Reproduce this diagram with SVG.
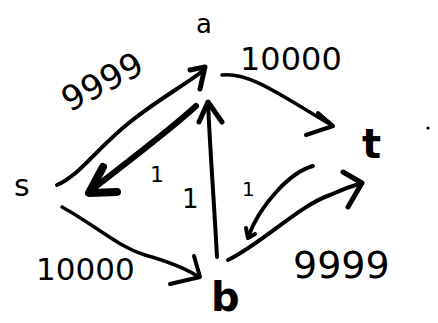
<svg xmlns="http://www.w3.org/2000/svg" width="438" height="323" viewBox="0 0 438 323">
<style>
.e{fill:none;stroke:#000;stroke-linecap:round;stroke-linejoin:round}
.h{fill:none;stroke:#000;stroke-linecap:round;stroke-linejoin:round}
text{font-family:"Comic Sans MS","DejaVu Sans",sans-serif;fill:#000}
.n{font-weight:bold}
</style>
<rect width="438" height="323" fill="#fff"/>
<g id="node-a"><text x="196" y="33" font-size="26">a</text></g>
<g id="node-t"><text x="362" y="158" font-size="40" class="n">t</text><circle cx="428" cy="128" r="1.6"/></g>
<g id="node-s"><text x="14" y="196" font-size="30">s</text></g>
<g id="node-b"><text x="211" y="311" font-size="40" class="n">b</text></g>
<g id="connectors">
<path class="e" stroke-width="4" d="M57,185 C80,175 95,150 130,122 C160,98 185,85 204,70"/>
<path class="h" stroke-width="5" d="M190,70 L205,67 L200,89"/>
<path class="e" stroke-width="6" d="M196,106 C170,130 130,160 90,191"/>
<path class="h" stroke-width="8" d="M103,167 L89,193 L117,192"/>
<path class="e" stroke-width="3.5" d="M222,75 C250,72 280,95 333,126"/>
<path class="h" stroke-width="4" d="M318,113 L333,126 L306,135"/>
<path class="e" stroke-width="3.5" d="M62,207 C95,225 115,245 145,255 C170,262 185,268 199,277"/>
<path class="h" stroke-width="4" d="M194,256 L200,277 L170,284"/>
<path class="e" stroke-width="4" d="M217,257 C214,200 210,150 208,102"/>
<path class="h" stroke-width="5" d="M199,122 L208,102 L222,122"/>
<path class="e" stroke-width="4" d="M228,260 C260,245 300,205 330,195 C345,188 355,185 362,183"/>
<path class="h" stroke-width="5" d="M343,172 L362,183 L348,207"/>
<path class="e" stroke-width="4" d="M313,166 C290,172 260,205 248,237"/>
<path class="h" stroke-width="4" d="M246,228 L248,238 L255,234"/>
<text x="-48" y="0" font-size="34" transform="translate(112,90) rotate(-28)">9999</text>
<text x="240" y="70" font-size="32">10000</text>
<text x="36" y="280" font-size="31">10000</text>
<text x="293" y="278" font-size="38">9999</text>
<text x="150" y="182" font-size="22">1</text>
<text x="182" y="208" font-size="26">1</text>
<text x="242" y="196" font-size="20">1</text>
</g>
</svg>
